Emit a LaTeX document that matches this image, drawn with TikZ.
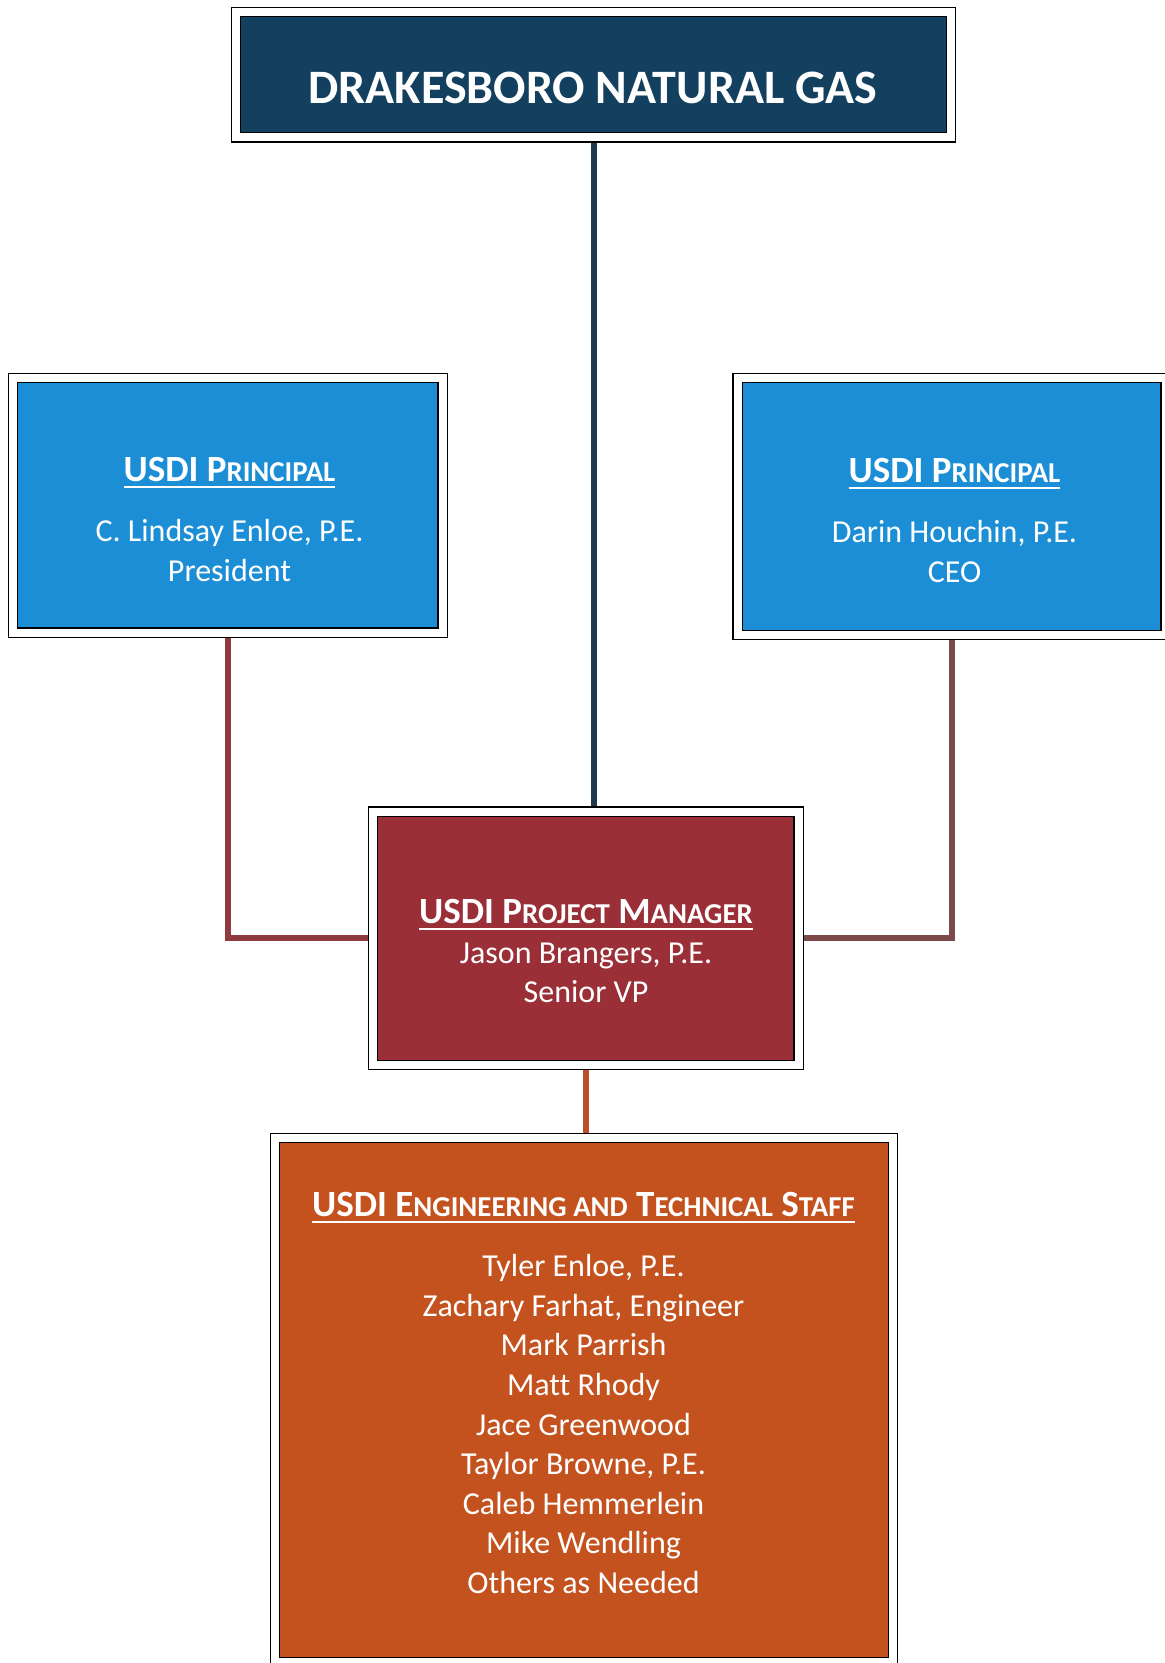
\documentclass[tikz,border=0pt]{standalone}
\usepackage{fontspec}
\setmainfont{Carlito}[Ligatures=NoCommon]
\definecolor{dngnavy}{HTML}{14405F}
\definecolor{usdiblue}{HTML}{1B8ED6}
\definecolor{pmred}{HTML}{9A2F38}
\definecolor{staffor}{HTML}{C4521E}
\definecolor{linenavy}{HTML}{1E3A4C}
\definecolor{linered}{HTML}{8F3A3F}
\definecolor{linebrown}{HTML}{7D4A4A}
\definecolor{lineor}{HTML}{B84E2A}
\newcommand\smc[1]{{\fontsize{14.4}{14.4}\selectfont #1}}
\newcommand\headline[1]{\vtop{\hbox{\bfseries\fontsize{18.5}{18.5}\selectfont #1}\kern2pt\hrule height 1.2pt}}

\begin{document}
\begin{tikzpicture}[x=0.5pt, y=-0.5pt,
  box/.style={draw=black, line width=0.6pt, double=white, double distance=4pt, outer sep=2.6pt},
  txt/.style={anchor=north, inner sep=0pt, align=center, text=white, font=\fontsize{16}{19.8}\selectfont},
  link/.style={line width=3pt}]
\useasboundingbox (0,0) rectangle (1165,1663);
\node [box, fill=dngnavy, minimum width=357.5pt, minimum height=62.75pt] (dng) at (593.5,74.75) {};
\node [box, fill=usdiblue, minimum width=214.75pt, minimum height=127.25pt] (pl) at (227.75,505.25) {};
\node [box, fill=usdiblue, minimum width=214pt, minimum height=128.5pt] (pr) at (951.5,506.5) {};
\node [box, fill=pmred, minimum width=212.75pt, minimum height=126.75pt] (pm) at (585.75,938.25) {};
\node [box, fill=staffor, minimum width=309pt, minimum height=262pt] (st) at (584,1400) {};
\draw [link, linenavy] (dng.south) -- (dng.south |- pm.north);
\draw [link, linered] (pl.south) |- (pm.west);
\draw [link, linebrown] (pr.south) |- (pm.east);
\draw [link, lineor] (pm.south) -- (pm.south |- st.north);
\node [txt, font=\bfseries\fontsize{24}{24}\selectfont] (dngt) at (593,72) {DRAKESBORO NATURAL GAS};
\node [txt] (plt) at (229.5,457) {\headline{USDI P\smc{RINCIPAL}}\\[10.2pt]
  C. Lindsay Enloe, P.E.\\ President};
\node [txt] (prt) at (954.5,458) {\headline{USDI P\smc{RINCIPAL}}\\[10.2pt]
  Darin Houchin, P.E.\\ CEO};
\node [txt] (pmt) at (586,899) {\headline{USDI P\smc{ROJECT} M\smc{ANAGER}}\\
  Jason Brangers, P.E.\\ Senior VP};
\node [txt] (stt) at (583.5,1192) {\headline{USDI E\smc{NGINEERING AND} T\smc{ECHNICAL} S\smc{TAFF}}\\[10.2pt]
  Tyler Enloe, P.E.\\ Zachary Farhat, Engineer\\ Mark Parrish\\ Matt Rhody\\ Jace Greenwood\\
  Taylor Browne, P.E.\\ Caleb Hemmerlein\\ Mike Wendling\\ Others as Needed};
\end{tikzpicture}
\end{document}
